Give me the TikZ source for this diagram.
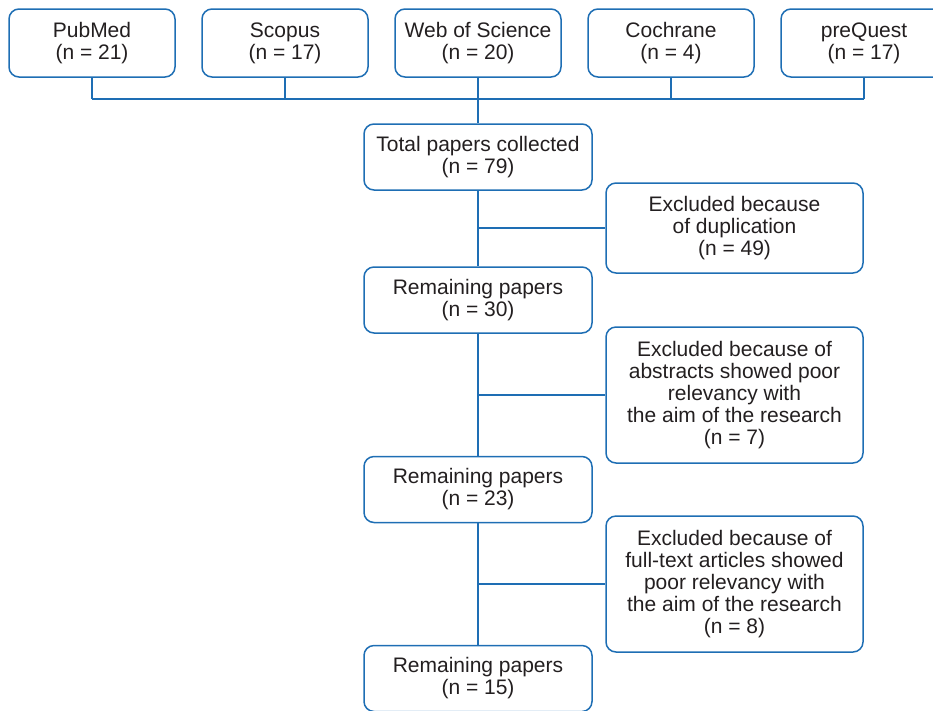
\documentclass[tikz,border=0pt]{standalone}
\usepackage{fontspec}
\setmainfont{Liberation Sans}
\usetikzlibrary{positioning}
\definecolor{flowblue}{RGB}{30,110,180}
\definecolor{flowtext}{RGB}{35,31,32}

\begin{document}
\begin{tikzpicture}[x=1pt, y=-1pt,
  box/.style={draw=flowblue, line width=1.5pt, rounded corners=10pt, align=center,
    inner sep=0pt, text=flowtext, font=\fontsize{21}{22}\selectfont},
  srcbox/.style={box, minimum width=166pt, minimum height=68pt},
  stagebox/.style={box, minimum width=228pt, minimum height=66pt},
  exclbox/.style={box, minimum width=257pt},
  link/.style={flowblue, line width=1.5pt}]
  \useasboundingbox (0,0) rectangle (933,710);
  \coordinate (bus) at (0,99);
  % databases
  \foreach \name/\lbl/\n [count=\i] in {pubmed/PubMed/21, scopus/Scopus/17,
      wos/Web of Science/20, cochrane/Cochrane/4, prequest/preQuest/17} {
    \node[srcbox] (\name) at ({92+193*(\i-1)},43) {\lbl\\(n = \n)};
    \draw[link] (\name.south) -- (\name.south |- bus);
  }
  \draw[link] (pubmed.south |- bus) -- (prequest.south |- bus);
  % main column
  \node[stagebox] (total) at (478,157) {Total papers collected\\(n = 79)};
  \node[stagebox] (rem1) at (478,300) {Remaining papers\\(n = 30)};
  \node[stagebox] (rem2) at (478,489.5) {Remaining papers\\(n = 23)};
  \node[stagebox] (rem3) at (478,678.5) {Remaining papers\\(n = 15)};
  % exclusions
  \node[exclbox, minimum height=90pt] (excl1) at (734.5,228) {Excluded because\\of duplication\\(n = 49)};
  \node[exclbox, minimum height=136pt] (excl2) at (734.5,395) {Excluded because of\\abstracts showed poor\\relevancy with\\the aim of the research\\(n = 7)};
  \node[exclbox, minimum height=136pt] (excl3) at (734.5,584) {Excluded because of\\full-text articles showed\\poor relevancy with\\the aim of the research\\(n = 8)};
  \draw[link] (wos.south) -- (total.north);
  \draw[link] (total.south) -- (rem1.north);
  \draw[link] (rem1.south) -- (rem2.north);
  \draw[link] (rem2.south) -- (rem3.north);
  \draw[link] (total.south |- excl1.west) -- (excl1.west);
  \draw[link] (rem1.south |- excl2.west) -- (excl2.west);
  \draw[link] (rem2.south |- excl3.west) -- (excl3.west);
\end{tikzpicture}
\end{document}
